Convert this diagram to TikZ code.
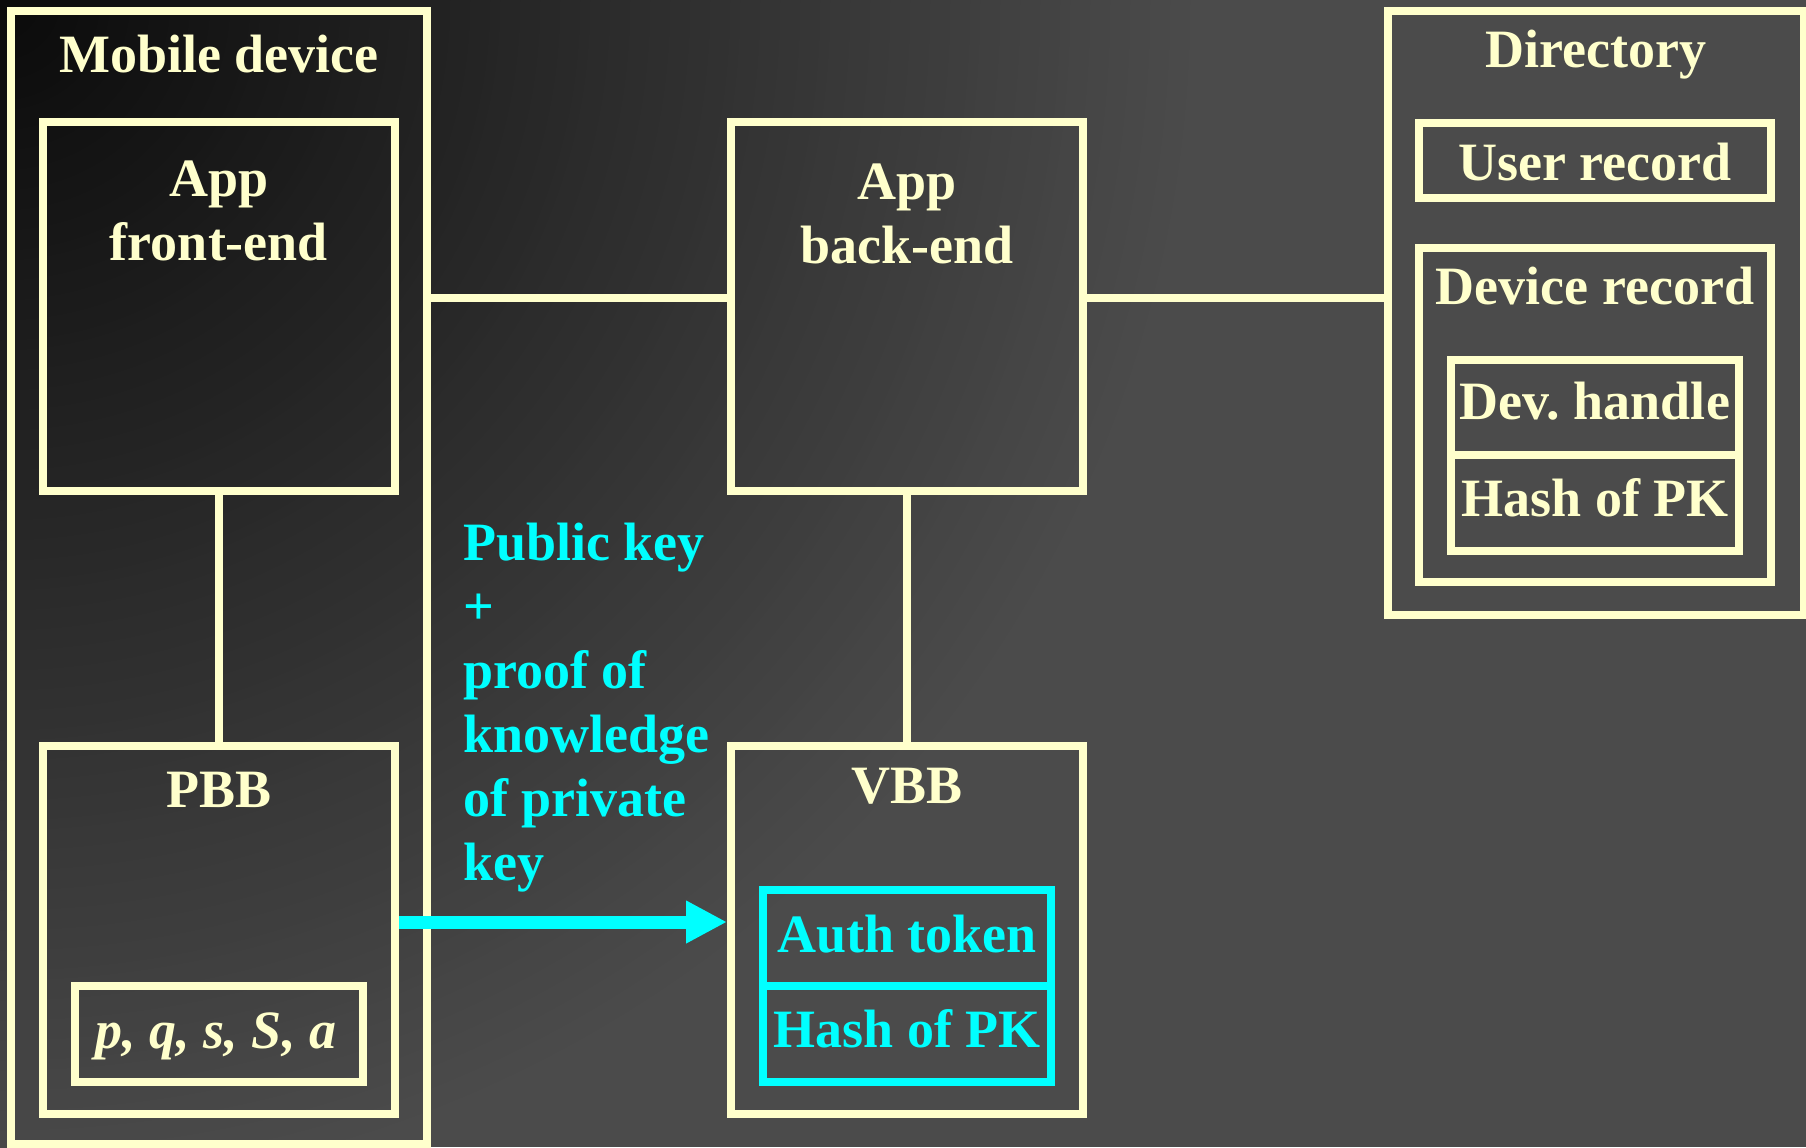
\documentclass[tikz,border=0pt]{standalone}
\usepackage{fontspec}
\setmainfont{Liberation Serif}
\usetikzlibrary{arrows.meta}
\definecolor{cream}{HTML}{FFFFCC}
\definecolor{keycyan}{HTML}{00FFFF}
\definecolor{bgdark}{HTML}{0A0A0A}
\definecolor{bglight}{HTML}{4B4B4B}
\tikzset{
 box/.style={draw=cream,line width=4pt,inner sep=0},
 keybox/.style={draw=keycyan,line width=4pt,inner sep=0},
 wire/.style={draw=cream,line width=4pt},
 title/.style={text=cream,font=\fontsize{27pt}{32pt}\selectfont\bfseries,inner sep=0,anchor=base},
 keytext/.style={title,text=keycyan},
 sendarrow/.style={draw=keycyan,line width=6.5pt,-{Triangle[length=20.5pt,width=20pt]}}
}
\frenchspacing

\begin{document}
\begin{tikzpicture}[x=0.5pt,y=-0.5pt]
\path[use as bounding box] (0,0) rectangle (1806,1147);
\begin{scope}
\clip (0,0) rectangle (1806,1147);
\fill[bglight] (0,0) rectangle (1806,1147);
\foreach \r in {1200,1190,...,10}{
  \pgfmathsetmacro\mixpct{\r/12}
  \fill[bglight!\mixpct!bgdark] (0,0) circle [radius=\r*0.5pt];
}
\end{scope}
% mobile device
\node[box,minimum width=208pt,minimum height=566.5pt] (mobile) at (219,577) {};
\node[title] (mobiletitle) at (219,72) {Mobile device};
\node[box,minimum width=176pt,minimum height=184.5pt] (front) at (219,306.5) {};
\node[title,align=center] (fronttitle) at (219,260) {App\\front-end};
\node[box,minimum width=176pt,minimum height=184pt] (pbb) at (219,930) {};
\node[title] (pbbtitle) at (219,807) {PBB};
\node[box,minimum width=144pt,minimum height=48pt] (keys) at (219,1034) {};
\node[title,font=\fontsize{27pt}{32pt}\selectfont\bfseries\itshape] (keystext) at (216,1048) {p, q, s, S, a};
% server side
\node[box,minimum width=176pt,minimum height=184.5pt] (back) at (907,306.5) {};
\node[title,align=center] (backtitle) at (907,263) {App\\back-end};
\node[box,minimum width=176pt,minimum height=184pt] (vbb) at (907,930) {};
\node[title] (vbbtitle) at (907,803) {VBB};
\node[keybox,minimum width=144pt,minimum height=48pt] (auth) at (907,938) {};
\node[keytext] (authtext) at (907,952) {Auth token};
\node[keybox,minimum width=144pt,minimum height=48pt] (vhash) at (907,1034) {};
\node[keytext] (vhashtext) at (907,1047) {Hash of PK};
% directory
\node[box,minimum width=208pt,minimum height=302pt] (dir) at (1596,313) {};
\node[title] (dirtitle) at (1596,67) {Directory};
\node[box,minimum width=176pt,minimum height=37.5pt] (user) at (1595,160.5) {};
\node[title] (usertext) at (1595,180) {User record};
\node[box,minimum width=176pt,minimum height=167pt] (devrec) at (1595,415) {};
\node[title] (devrectitle) at (1595,304) {Device record};
\node[box,minimum width=144pt,minimum height=47.5pt] (handle) at (1595,407.5) {};
\node[title] (handletext) at (1595,419) {Dev. handle};
\node[box,minimum width=144pt,minimum height=48pt] (dhash) at (1595,503) {};
\node[title] (dhashtext) at (1595,516) {Hash of PK};
% links
\coordinate (link) at (0,298);
\coordinate (msg) at (0,922);
\draw[wire] (front) -- (pbb);
\draw[wire] (back) -- (vbb);
\draw[wire] (mobile.east |- link) -- (back.west |- link);
\draw[wire] (back.east |- link) -- (dir.west |- link);
\draw[sendarrow] (pbb.east |- msg) -- (vbb.west |- msg);
\node[keytext,align=left,anchor=base west] (proof) at (463,880) {Public key\\+\\proof of\\knowledge\\of private\\key};
\end{tikzpicture}
\end{document}
